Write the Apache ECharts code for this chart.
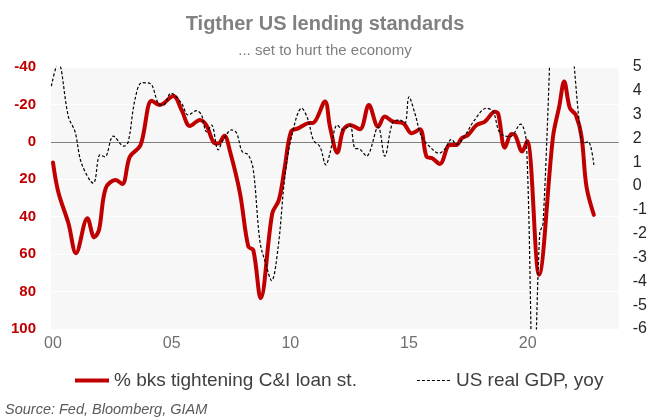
<!DOCTYPE html>
<html>
<head>
<meta charset="utf-8">
<script src="https://cdn.jsdelivr.net/npm/echarts@6/dist/echarts.min.js"></script>
<style>
html,body{margin:0;padding:0;background:#fff;}
#chart{width:650px;height:417px;}
</style>
</head>
<body>
<div id="chart"></div>
<script>
// Tick labels on the x axis (years)
var xTickYears = [2000, 2005, 2010, 2015, 2020];

// % of banks tightening C&I loan standards (left axis, inverted)
var lendingDates = [2000.0, 2000.22, 2000.65, 2000.97, 2001.45, 2001.74, 2001.94, 2002.22, 2002.64, 2002.92,
  2003.24, 2003.69, 2004.16, 2004.5, 2005.07, 2005.42, 2005.77, 2006.19, 2006.47, 2006.75,
  2006.96, 2007.22, 2007.46, 2007.88, 2008.23, 2008.44, 2008.75, 2009.24, 2009.52, 2009.77,
  2010.03, 2010.33, 2010.75, 2010.97, 2011.46, 2011.67, 2011.98, 2012.23, 2012.51, 2012.93,
  2013.31, 2013.7, 2013.98, 2014.33, 2014.76, 2015.11, 2015.46, 2015.74, 2015.98, 2016.3,
  2016.72, 2017.0, 2017.22, 2017.49, 2017.85, 2018.2, 2018.62, 2018.76, 2019.04, 2019.32,
  2019.46, 2019.77, 2019.98, 2020.48, 2021.07, 2021.33, 2021.54, 2021.78, 2022.03, 2022.27,
  2022.48, 2022.79];
var lendingValues = [11, 26.6, 43.5, 59.5, 40.8, 51, 47, 24.8, 20.4, 22.5,
  7.9, 1.7, -22, -19.7, -24.5, -17, -8.5, -11.7, -8.7, 0,
  0.9, -3.2, 5.2, 27.5, 56, 57.8, 83.6, 38.2, 31, 13.2,
  -5.5, -7.2, -10, -10.2, -21.5, -8.1, 5.8, -6.4, -9, -6.7,
  -19.7, -8.1, -13.5, -10.8, -9.9, -4.6, -6.7, 7.9, 8.8, 11.8,
  1.7, 1.7, -1.9, -3.7, -9, -10.8, -16.1, -15, 3.1, -4.2,
  -3.8, 5.2, -0.5, 71, -2.8, -18.8, -32.2, -18, -14.4, -2.8,
  24, 39];

// US real GDP, yoy % (right axis)
var gdpDates = [1999.93, 2000.22, 2000.65, 2000.93, 2001.2, 2001.7, 2001.98, 2002.19, 2002.54, 2002.99,
  2003.17, 2003.45, 2003.74, 2004.09, 2004.44, 2004.65, 2004.97, 2005.42, 2005.7, 2006.05,
  2006.26, 2006.47, 2006.68, 2006.96, 2007.17, 2007.53, 2007.74, 2007.97, 2008.23, 2008.44,
  2008.72, 2008.96, 2009.21, 2009.49, 2009.77, 2010.05, 2010.48, 2010.75, 2010.97, 2011.25,
  2011.5, 2011.67, 2011.98, 2012.23, 2012.51, 2012.72, 2012.93, 2013.21, 2013.7, 2013.98,
  2014.33, 2014.62, 2014.83, 2015.0, 2015.25, 2015.53, 2015.88, 2016.26, 2016.51, 2016.79,
  2017.0, 2017.42, 2017.71, 2018.27, 2018.55, 2018.83, 2019.25, 2019.7, 2019.95, 2020.25,
  2020.51, 2020.65, 2021.3, 2021.55, 2021.75, 2022.2, 2022.34, 2022.55, 2022.79];
var gdpValues = [4.2, 5.2, 2.91, 2.28, 0.96, 0.12, 1.31, 1.23, 2.1, 1.68,
  1.86, 3.61, 4.34, 4.31, 3.47, 3.4, 3.9, 3.47, 2.98, 3.17,
  2.98, 2.28, 2.56, 1.52, 1.94, 2.36, 2.22, 1.45, 1.31, 0.68,
  -2.33, -3.24, -3.97, -2.54, 0.4, 2.07, 3.27, 2.78, 1.94, 1.65,
  0.89, 1.38, 2.56, 2.36, 2.56, 1.59, 1.55, 1.26, 2.49, 1.26,
  2.7, 2.77, 2.64, 3.75, 3.05, 2.07, 1.65, 1.38, 1.55, 1.96,
  1.75, 2.22, 2.7, 3.27, 3.12, 2.24, 2.07, 2.6, 1.8, -9.0,
  -1.98, -1.56, 12.2, 5.2, 6.3, 2.49, 1.8, 1.86, 0.89];

var seriesNames = ['% bks tightening C&I loan st.', 'US real GDP, yoy'];

function pairs(xs, ys) {
  return xs.map(function (x, i) { return [x, ys[i]]; });
}

var FONT = "'Liberation Sans', Arial, sans-serif";
var solidIcon = 'path://M0,0M34,14M0,5h34v4h-34z';
var dashedIcon = 'path://M0,0M34,14M0,6.4h3v1.2h-3zM5,6.4h3v1.2h-3zM10,6.4h3v1.2h-3zM15,6.4h3v1.2h-3zM20,6.4h3v1.2h-3zM25,6.4h3v1.2h-3zM30,6.4h3v1.2h-3z';

var chart = echarts.init(document.getElementById('chart'), null, {renderer: 'canvas'});

chart.setOption({
  animation: false,
  backgroundColor: '#ffffff',
  title: [
    {
      text: 'Tigther US lending standards',
      left: 'center', top: 9,
      textStyle: {fontFamily: FONT, fontSize: 20, fontWeight: 'bold', color: '#808080'}
    },
    {
      text: '... set to hurt the economy',
      left: 'center', top: 38,
      textStyle: {fontFamily: FONT, fontSize: 15, fontWeight: 'normal', color: '#7f7f7f'}
    }
  ],
  legend: {
    left: 70, top: 366,
    itemGap: 60, itemWidth: 34, itemHeight: 14,
    textStyle: {fontFamily: FONT, fontSize: 19, color: '#404040'},
    data: [
      {name: seriesNames[0], icon: solidIcon, itemStyle: {color: '#c00000', borderWidth: 0}},
      {name: seriesNames[1], icon: dashedIcon, itemStyle: {color: '#000000', borderWidth: 0}}
    ]
  },
  graphic: [{
    type: 'text', left: 5, top: 402,
    style: {text: 'Source: Fed, Bloomberg, GIAM', fontFamily: FONT, fontSize: 14.5, fontStyle: 'italic', fill: '#595959'}
  }],
  grid: {
    left: 51, right: 31, top: 67, bottom: 88,
    show: true, backgroundColor: '#f7f7f7', borderWidth: 0
  },
  xAxis: {
    type: 'value',
    min: 1999.916, max: 2023.84,
    axisLine: {show: false},
    axisTick: {show: false},
    splitLine: {show: false},
    axisLabel: {
      customValues: xTickYears,
      formatter: function (v) { return String(Math.round(v) % 100).padStart(2, '0'); },
      fontFamily: FONT, fontSize: 16, color: '#6f6f6f', margin: 7
    }
  },
  yAxis: [
    {
      type: 'value', inverse: true,
      min: -40, max: 100, interval: 20,
      axisLine: {show: false}, axisTick: {show: false},
      axisLabel: {fontFamily: FONT, fontSize: 15, fontWeight: 'bold', color: '#c00000', margin: 15},
      splitLine: {show: true, lineStyle: {color: ['#ffffff', '#ffffff', '#808080', '#ffffff', '#ffffff', '#ffffff', '#ffffff', '#ffffff'], width: 1}}
    },
    {
      type: 'value',
      min: -6, max: 5, interval: 1,
      axisLine: {show: false}, axisTick: {show: false},
      axisLabel: {fontFamily: FONT, fontSize: 16, color: '#262626', margin: 14},
      splitLine: {show: false}
    }
  ],
  series: [
    {
      name: seriesNames[0],
      type: 'line', yAxisIndex: 0,
      data: pairs(lendingDates, lendingValues),
      symbol: 'none', smooth: 0.35,
      lineStyle: {color: '#c00000', width: 4, cap: 'round', join: 'round'},
      itemStyle: {color: '#c00000'}
    },
    {
      name: seriesNames[1],
      type: 'line', yAxisIndex: 1,
      data: pairs(gdpDates, gdpValues),
      symbol: 'none', smooth: 0.35, clip: true,
      lineStyle: {color: '#000000', width: 1.2, type: [3, 2]},
      itemStyle: {color: '#000000'}
    }
  ]
});
</script>
</body>
</html>
